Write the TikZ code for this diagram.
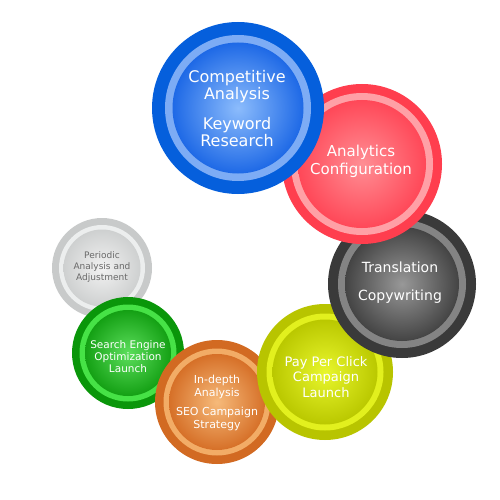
\documentclass[tikz,border=0pt]{standalone}
\usepackage{fontspec}
\setmainfont{DejaVu Sans}

% Bubble colours: outer disc, light ring, centre and edge of the shaded core
\definecolor{blueout}{RGB}{5,95,220}
\definecolor{bluering}{RGB}{125,172,245}
\definecolor{bluein}{RGB}{140,188,252}
\definecolor{blueedge}{RGB}{30,105,230}
\definecolor{redout}{RGB}{255,62,78}
\definecolor{redring}{RGB}{255,160,166}
\definecolor{redin}{RGB}{255,142,148}
\definecolor{rededge}{RGB}{255,72,88}
\definecolor{darkout}{RGB}{58,58,58}
\definecolor{darkring}{RGB}{132,132,132}
\definecolor{darkin}{RGB}{152,152,152}
\definecolor{darkedge}{RGB}{68,68,68}
\definecolor{yellowout}{RGB}{184,196,0}
\definecolor{yellowring}{RGB}{226,240,30}
\definecolor{yellowin}{RGB}{232,246,44}
\definecolor{yellowedge}{RGB}{186,200,0}
\definecolor{orangeout}{RGB}{210,106,34}
\definecolor{orangering}{RGB}{242,172,102}
\definecolor{orangein}{RGB}{246,186,122}
\definecolor{orangeedge}{RGB}{214,112,40}
\definecolor{greenout}{RGB}{10,150,10}
\definecolor{greenring}{RGB}{70,226,70}
\definecolor{greenin}{RGB}{92,222,92}
\definecolor{greenedge}{RGB}{20,160,20}
\definecolor{grayout}{RGB}{200,202,202}
\definecolor{grayring}{RGB}{236,238,238}
\definecolor{grayin}{RGB}{242,242,242}
\definecolor{grayedge}{RGB}{206,208,208}
\definecolor{graytext}{RGB}{105,105,105}

\begin{document}
\begin{tikzpicture}[x=1pt,y=-1pt,
  bubbletext/.style={text=white, align=center, inner sep=0pt}]

\useasboundingbox (0,0) rectangle (500,500);

% Periodic analysis (bottom of the stack)
\fill[grayout] (102,268) circle (50);
\fill[grayring] (102,268) circle (43);
\shade[inner color=grayin, outer color=grayedge] (102,268) circle (38.5);
\node[bubbletext, text=graytext, font=\fontsize{9}{11}\selectfont] (periodic) at (102,267) {Periodic\\Analysis and\\Adjustment};

% Search engine optimization
\fill[greenout] (128,353) circle (56);
\fill[greenring] (128,353) circle (48.5);
\shade[inner color=greenin, outer color=greenedge] (128,353) circle (43);
\node[bubbletext, font=\fontsize{10.5}{12}\selectfont] (seo) at (128,357) {Search Engine\\Optimization\\Launch};

% In-depth analysis
\fill[orangeout] (217,402) circle (62);
\fill[orangering] (217,402) circle (53.5);
\shade[inner color=orangein, outer color=orangeedge] (217,402) circle (48);
\node[bubbletext, font=\fontsize{11}{12.5}\selectfont] (indepth) at (217,403) {In-depth\\Analysis\\[7pt]SEO Campaign\\Strategy};

% Pay per click
\fill[yellowout] (325,372) circle (68);
\fill[yellowring] (325,372) circle (58.5);
\shade[inner color=yellowin, outer color=yellowedge] (325,372) circle (52.5);
\node[bubbletext, font=\fontsize{13}{15.5}\selectfont] (ppc) at (326,377) {Pay Per Click\\Campaign\\Launch};

% Translation
\fill[darkout] (402,284) circle (74);
\fill[darkring] (402,284) circle (64);
\shade[inner color=darkin, outer color=darkedge] (402,284) circle (57);
\node[bubbletext, font=\fontsize{14}{17}\selectfont] (translation) at (400,283) {Translation\\[11pt]Copywriting};

% Analytics
\fill[redout] (362,164) circle (80);
\fill[redring] (362,164) circle (71);
\shade[inner color=redin, outer color=rededge] (362,164) circle (64);
\node[bubbletext, font=\fontsize{15}{18}\selectfont] (analytics) at (361,161) {Analytics\\Configuration};

% Competitive analysis (top of the stack)
\fill[blueout] (238,108) circle (86);
\fill[bluering] (238,108) circle (73);
\shade[inner color=bluein, outer color=blueedge] (238,108) circle (65.5);
\node[bubbletext, font=\fontsize{16}{17}\selectfont] (competitive) at (237,109) {Competitive\\Analysis\\[13pt]Keyword\\Research};

\end{tikzpicture}
\end{document}
